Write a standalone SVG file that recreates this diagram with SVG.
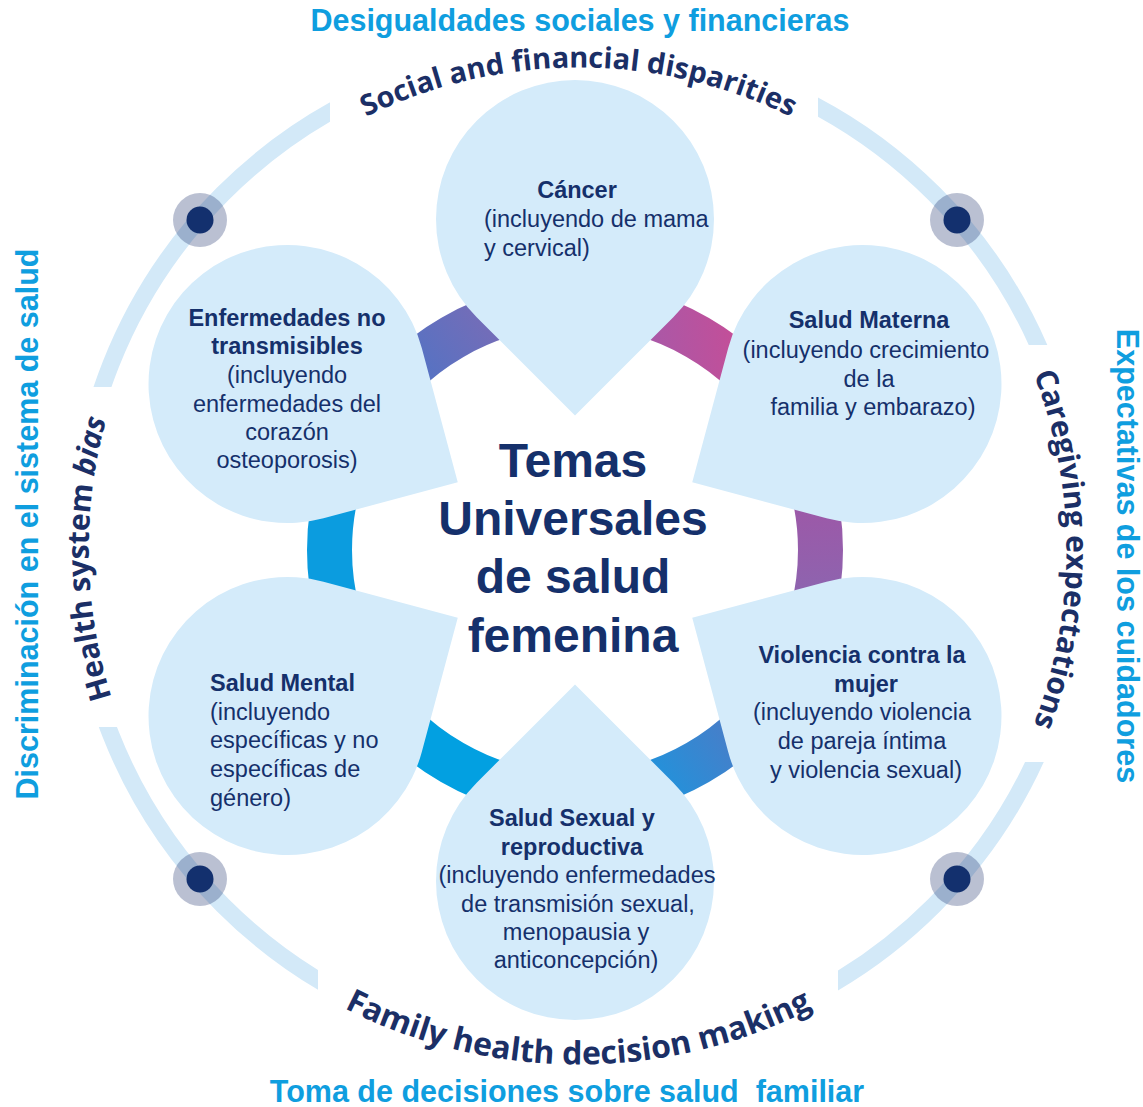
<svg xmlns="http://www.w3.org/2000/svg" xmlns:xlink="http://www.w3.org/1999/xlink" width="1143" height="1107" viewBox="0 0 1143 1107">
<style>
.t{font-family:"Liberation Sans",Arial,sans-serif;fill:#15306b;font-size:23.5px}
.b{font-weight:bold}
.mid{text-anchor:middle}
.title{font-family:"Liberation Sans",Arial,sans-serif;font-weight:bold;font-size:30.5px;fill:#0f9edf;text-anchor:middle}
.arc{font-family:"Open Sans","Noto Sans",sans-serif;font-weight:bold;fill:#1b2f66;font-size:29px}
.drop{fill:#d4ebfa}
.seg{fill:none;stroke-width:45}
</style>
<defs>
<path id="drop" d="M 196.6 0 L 98.3 98.3 A 139 139 0 1 1 98.3 -98.3 Z"/>
<clipPath id="ringclip">
<rect x="0" y="0" width="330" height="387"/>
<rect x="0" y="727" width="318" height="380"/>
<rect x="818" y="0" width="325" height="345"/>
<rect x="838" y="762" width="305" height="345"/>
</clipPath>
<linearGradient id="gTL" gradientUnits="userSpaceOnUse" x1="420" y1="360" x2="500" y2="300"><stop offset="0" stop-color="#5872c2"/><stop offset="1" stop-color="#7c6bb5"/></linearGradient>
<linearGradient id="gTR" gradientUnits="userSpaceOnUse" x1="650" y1="330" x2="730" y2="320"><stop offset="0" stop-color="#aa58a7"/><stop offset="1" stop-color="#c24f99"/></linearGradient>
<linearGradient id="gR" gradientUnits="userSpaceOnUse" x1="820" y1="510" x2="820" y2="595"><stop offset="0" stop-color="#9c59a8"/><stop offset="1" stop-color="#8d64af"/></linearGradient>
<linearGradient id="gBR" gradientUnits="userSpaceOnUse" x1="660" y1="770" x2="735" y2="720"><stop offset="0" stop-color="#2690d9"/><stop offset="1" stop-color="#4b7cc7"/></linearGradient>
<path id="pTop" d="M 96.5 549.5 A 482 482 0 0 1 1060.5 549.5"/>
<path id="pLeft" d="M 578.5 1039.5 A 490 490 0 0 1 578.5 59.5"/>
<path id="pRight" d="M 578.5 61.5 A 488 488 0 0 1 578.5 1037.5"/>
<path id="pBottom" d="M 63.5 549.5 A 515 515 0 0 0 1093.5 549.5"/>
</defs>
<rect width="1143" height="1107" fill="#ffffff"/>

<g id="outer-ring">
<circle cx="578.5" cy="549.5" r="503" fill="none" stroke="#d3e9f8" stroke-width="17" clip-path="url(#ringclip)"/>
<g>
<circle cx="200" cy="220" r="27" fill="#1a2f6b" fill-opacity="0.3"/><circle cx="200" cy="220" r="13.5" fill="#13306e"/>
<circle cx="957" cy="220" r="27" fill="#1a2f6b" fill-opacity="0.3"/><circle cx="957" cy="220" r="13.5" fill="#13306e"/>
<circle cx="200" cy="879" r="27" fill="#1a2f6b" fill-opacity="0.3"/><circle cx="200" cy="879" r="13.5" fill="#13306e"/>
<circle cx="957" cy="879" r="27" fill="#1a2f6b" fill-opacity="0.3"/><circle cx="957" cy="879" r="13.5" fill="#13306e"/>
</g>
</g>

<g id="connectors">
<path class="seg" stroke="url(#gTL)" d="M 362.4 427.25 A 245.5 245.5 0 0 1 575 304.5"/>
<path class="seg" stroke="url(#gTR)" d="M 575 304.5 A 245.5 245.5 0 0 1 787.6 427.25"/>
<path class="seg" stroke="url(#gR)" d="M 787.6 427.25 A 245.5 245.5 0 0 1 787.6 672.75"/>
<path class="seg" stroke="url(#gBR)" d="M 787.6 672.75 A 245.5 245.5 0 0 1 575 795.5"/>
<path class="seg" stroke="#02a0e1" d="M 575 795.5 A 245.5 245.5 0 0 1 362.4 672.75"/>
<path class="seg" stroke="#0b9cdf" d="M 362.4 672.75 A 245.5 245.5 0 0 1 362.4 427.25"/>
</g>

<g id="node-cancer">
<use href="#drop" class="drop" transform="translate(575,219) rotate(90)"/>
<text class="t b mid" x="577" y="198">Cáncer</text>
<text class="t" x="484" y="227">(incluyendo de mama</text>
<text class="t" x="484" y="256">y cervical)</text>
</g>

<g id="node-materna">
<use href="#drop" class="drop" transform="translate(862.5,384) rotate(150)"/>
<text class="t b mid" x="869" y="328">Salud Materna</text>
<text class="t mid" x="866" y="358">(incluyendo crecimiento</text>
<text class="t mid" x="869" y="387">de la</text>
<text class="t mid" x="873" y="415">familia y embarazo)</text>
</g>

<g id="node-violencia">
<use href="#drop" class="drop" transform="translate(862.5,716) rotate(210)"/>
<text class="t b mid" x="862" y="663">Violencia contra la</text>
<text class="t b mid" x="866" y="692">mujer</text>
<text class="t mid" x="862" y="720">(incluyendo violencia</text>
<text class="t mid" x="862" y="749">de pareja íntima</text>
<text class="t mid" x="866" y="778">y violencia sexual)</text>
</g>

<g id="node-sexual">
<use href="#drop" class="drop" transform="translate(575,881) rotate(270)"/>
<text class="t b mid" x="572" y="826">Salud Sexual y</text>
<text class="t b mid" x="572" y="855">reproductiva</text>
<text class="t mid" x="577" y="883">(incluyendo enfermedades</text>
<text class="t mid" x="578" y="912">de transmisión sexual,</text>
<text class="t mid" x="576" y="940">menopausia y</text>
<text class="t mid" x="576" y="968">anticoncepción)</text>
</g>

<g id="node-mental">
<use href="#drop" class="drop" transform="translate(287.5,716) rotate(-30)"/>
<text class="t b" x="210" y="691">Salud Mental</text>
<text class="t" x="210" y="720">(incluyendo</text>
<text class="t" x="210" y="748">específicas y no</text>
<text class="t" x="210" y="777">específicas de</text>
<text class="t" x="210" y="806">género)</text>
</g>

<g id="node-enfermedades">
<use href="#drop" class="drop" transform="translate(287.5,384) rotate(30)"/>
<text class="t b mid" x="287" y="326">Enfermedades no</text>
<text class="t b mid" x="287" y="354">transmisibles</text>
<text class="t mid" x="287" y="383">(incluyendo</text>
<text class="t mid" x="287" y="412">enfermedades del</text>
<text class="t mid" x="287" y="440">corazón</text>
<text class="t mid" x="287" y="468">osteoporosis)</text>
</g>

<g id="node-center">
<text class="t b mid" style="font-size:48px" x="573" y="477">Temas</text>
<text class="t b mid" style="font-size:48px" x="573" y="535">Universales</text>
<text class="t b mid" style="font-size:48px" x="573" y="593">de salud</text>
<text class="t b mid" style="font-size:48px" x="573" y="652">femenina</text>
</g>

<g id="labels">
<text class="arc"><textPath href="#pTop" startOffset="50%" text-anchor="middle">Social and financial disparities</textPath></text>
<text class="arc" style="font-size:30px"><textPath href="#pLeft" startOffset="49.4%" text-anchor="middle">Health system <tspan font-style="italic">bias</tspan></textPath></text>
<text class="arc" style="font-size:30px"><textPath href="#pRight" startOffset="50%" text-anchor="middle">Caregiving expectations</textPath></text>
<text class="arc" style="font-size:32px"><textPath href="#pBottom" startOffset="50%" text-anchor="middle">Family health decision making</textPath></text>
<text class="title" x="580" y="31">Desigualdades sociales y financieras</text>
<text class="title" x="567" y="1102" style="white-space:pre">Toma de decisiones sobre salud  familiar</text>
<text class="title" transform="translate(38,524) rotate(-90)">Discriminación en el sistema de salud</text>
<text class="title" transform="translate(1117,556) rotate(90)">Expectativas de los cuidadores</text>
</g>
</svg>
